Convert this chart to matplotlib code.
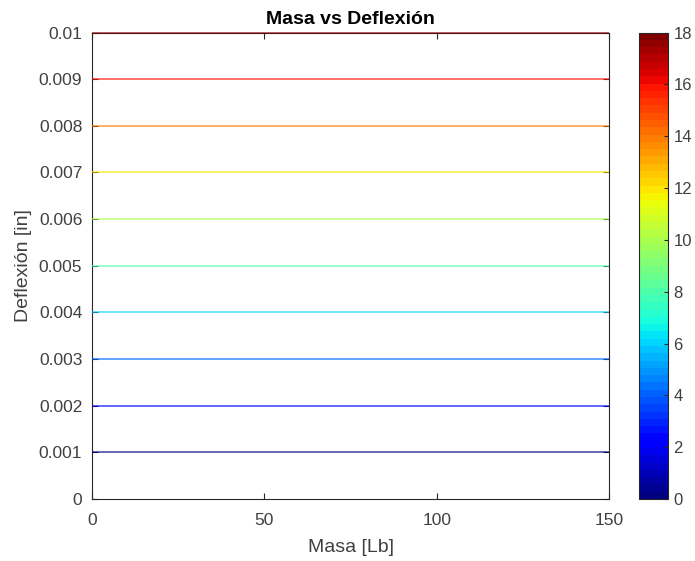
import numpy as np
import matplotlib
matplotlib.use("Agg")
import matplotlib.pyplot as plt
import matplotlib.colors as mcolors
import matplotlib.cm as cm

# data
deflexion = [0.001, 0.002, 0.003, 0.004, 0.005, 0.006, 0.007, 0.008, 0.009, 0.01]
nivel = [0, 2, 4, 6, 8, 10, 12, 14, 16, 18]
masa_lim = [0, 150]
x_ticks = [0, 50, 100, 150]
y_ticks = [0, 0.001, 0.002, 0.003, 0.004, 0.005, 0.006, 0.007, 0.008, 0.009, 0.01]
y_ticklabels = ["0", "0.001", "0.002", "0.003", "0.004", "0.005", "0.006",
                "0.007", "0.008", "0.009", "0.01"]
cbar_ticks = [0, 2, 4, 6, 8, 10, 12, 14, 16, 18]

plt.rcParams['font.family'] = ['Liberation Sans', 'DejaVu Sans']

fig = plt.figure(figsize=(6.95, 5.61), dpi=100)
ax = fig.add_axes([0.1324, 0.1105, 0.744, 0.8315])
cax = fig.add_axes([0.9194, 0.1105, 0.0417, 0.8315])

cmap = plt.get_cmap('jet')
norm = mcolors.Normalize(vmin=0, vmax=18)

# one horizontal contour line per level, coloured by jet
ax.hlines(deflexion, masa_lim[0], masa_lim[1], colors=cmap(norm(np.array(nivel))),
          linewidth=1.3, alpha=0.65, clip_on=False, zorder=4)

ax.set_xlim(masa_lim)
ax.set_ylim(0, 0.01)
ax.set_xticks(x_ticks)
ax.set_yticks(y_ticks)
ax.set_yticklabels(y_ticklabels)
gray = '#262626'
lab = '#404040'
for s in ax.spines.values():
    s.set_color(gray)
    s.set_linewidth(0.8)
ax.tick_params(direction='in', top=True, right=True, length=4, color=gray,
               labelcolor=lab, labelsize=12.5)
ax.tick_params(axis='x', pad=10)
ax.tick_params(axis='y', pad=7)
ax.set_xlabel('Masa [Lb]', fontsize=14, color=lab, labelpad=8)
ax.set_ylabel('Deflexión [in]', fontsize=14, color=lab, labelpad=5)
ax.set_title('Masa vs Deflexión', fontsize=14, fontweight='bold', pad=6)

sm = cm.ScalarMappable(norm=norm, cmap=plt.get_cmap('jet', 64))
cb = fig.colorbar(sm, cax=cax, ticks=cbar_ticks)
cb.outline.set_edgecolor(gray)
cb.outline.set_linewidth(0.8)
cax.tick_params(direction='in', length=3, color=gray, labelcolor=lab,
                labelsize=12, pad=4)

fig.savefig('out.png', dpi=100)
